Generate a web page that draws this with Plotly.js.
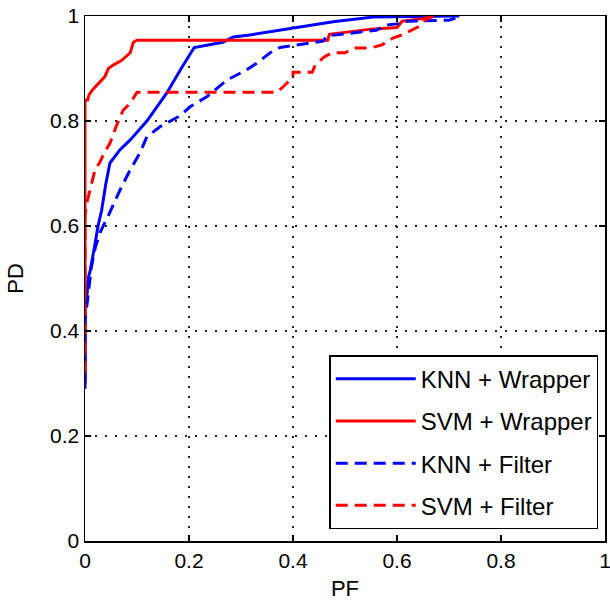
<!DOCTYPE html>
<html>
<head>
<meta charset="utf-8">
<script src="https://cdn.plot.ly/plotly-3.0.1.min.js"></script>
<style>html,body{margin:0;padding:0;background:#fff;}#chart{width:610px;height:613px;}</style>
</head>
<body>
<div id="chart"></div>
<script>
// KNN + Wrapper
const knnWrapperPF = [0,0,0.004,0.006,0.01,0.015,0.02,0.025,0.032,0.04,0.048,0.067,0.087,0.119,0.157,0.185,0.21,0.265,0.285,0.317,0.375,0.4,0.477,0.554,0.72];
const knnWrapperPD = [0.29,0.44,0.47,0.5,0.515,0.54,0.57,0.6,0.63,0.68,0.72,0.745,0.764,0.80,0.853,0.9,0.94,0.95,0.96,0.964,0.973,0.977,0.989,0.998,1];
// SVM + Wrapper
const svmWrapperPF = [0,0,0.005,0.008,0.015,0.025,0.038,0.045,0.055,0.07,0.08,0.087,0.093,0.1,0.467,0.47,0.55,0.6,0.61,0.65,0.67];
const svmWrapperPD = [0.3,0.84,0.84,0.85,0.86,0.87,0.884,0.9,0.907,0.915,0.925,0.93,0.95,0.954,0.954,0.965,0.975,0.978,0.99,0.995,1];
// KNN + Filter
const knnFilterPF = [0,0,0.005,0.012,0.02,0.03,0.045,0.055,0.061,0.073,0.087,0.106,0.119,0.144,0.183,0.202,0.234,0.273,0.31,0.33,0.356,0.375,0.458,0.465,0.56,0.58,0.6,0.62,0.7,0.725];
const knnFilterPD = [0.3,0.42,0.46,0.52,0.56,0.59,0.62,0.64,0.655,0.68,0.707,0.74,0.77,0.789,0.81,0.827,0.846,0.878,0.897,0.91,0.93,0.94,0.952,0.962,0.973,0.983,0.985,0.99,0.992,1];
// SVM + Filter
const svmFilterPF = [0,0,0.004,0.01,0.015,0.02,0.028,0.035,0.048,0.06,0.073,0.087,0.1,0.37,0.385,0.4,0.4,0.437,0.443,0.46,0.475,0.5,0.52,0.548,0.571,0.592,0.61,0.64,0.65,0.67];
const svmFilterPD = [0.32,0.62,0.646,0.67,0.69,0.71,0.72,0.735,0.758,0.79,0.82,0.834,0.855,0.855,0.869,0.884,0.893,0.893,0.907,0.922,0.93,0.93,0.939,0.939,0.945,0.958,0.964,0.979,0.99,1];

const seriesNames = ["KNN + Wrapper","SVM + Wrapper","KNN + Filter","SVM + Filter"];
const tickVals = [0,0.2,0.4,0.6,0.8,1];
const tickText = ["0","0.2","0.4","0.6","0.8","1"];

const dash = "12px,7px";
const traces = [
  {x: knnWrapperPF, y: knnWrapperPD, name: seriesNames[0], line:{color:"#0000ff", width:3}},
  {x: svmWrapperPF, y: svmWrapperPD, name: seriesNames[1], line:{color:"#ff0000", width:3}},
  {x: knnFilterPF, y: knnFilterPD, name: seriesNames[2], line:{color:"#0000ff", width:3, dash: dash}},
  {x: svmFilterPF, y: svmFilterPD, name: seriesNames[3], line:{color:"#ff0000", width:3, dash: dash}}
].map((t,i) => Object.assign({type:"scatter", mode:"lines", legendgroup:"g"+i}, t));

const font = {family:"Liberation Sans, Arial, sans-serif", color:"#000"};
const axisCommon = {
  range:[0,1], tickvals:tickVals, ticktext:tickText,
  ticks:"inside", ticklen:6, tickcolor:"#000", tickwidth:1.5,
  showline:true, linecolor:"#000", linewidth:1.5, mirror:"ticks",
  showgrid:true, gridcolor:"#222", gridwidth:1.3, griddash:"2px,8px",
  zeroline:false, tickfont:Object.assign({size:21}, font), fixedrange:true,
  ticklabeloverflow:"allow"
};

const layout = {
  width:610, height:613,
  margin:{l:85, r:5, t:16, b:72},
  paper_bgcolor:"#fff", plot_bgcolor:"#fff",
  font: font,
  xaxis: Object.assign({}, axisCommon, {title:{text:"PF", font:Object.assign({size:22}, font), standoff:10}}),
  yaxis: Object.assign({}, axisCommon, {title:{text:"PD", font:Object.assign({size:22}, font), standoff:20}}),
  showlegend:true,
  legend:{
    x:0.987, y:0.354, xanchor:"right", yanchor:"top",
    bgcolor:"#fff", bordercolor:"#000", borderwidth:1.5,
    font:Object.assign({size:24}, font),
    traceorder:"grouped", tracegroupgap:8,
    entrywidth:300, itemwidth:80
  }
};

Plotly.newPlot("chart", traces, layout, {staticPlot:true, displayModeBar:false});
</script>
</body>
</html>
